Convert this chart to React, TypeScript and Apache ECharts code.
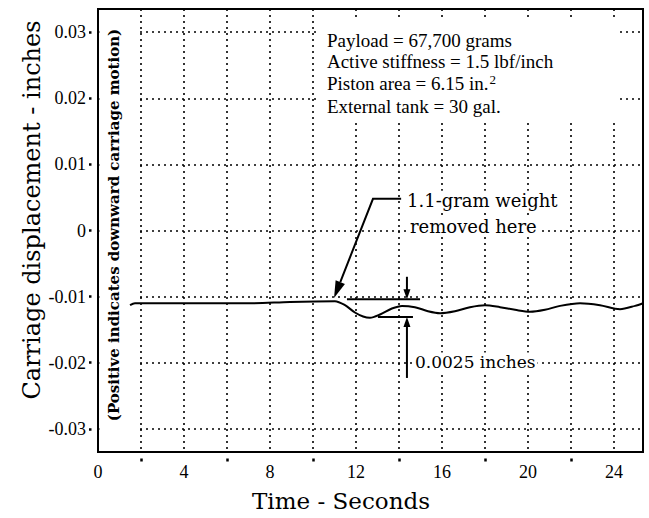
import React, { useEffect, useRef } from "react";
import * as echarts from "echarts";

// ---- Data (time in seconds, displacement in inches) ----
const timeSeconds = [
  1.49, 1.72, 2.42, 4.74, 7.07, 8.93, 11.02, 11.49, 11.95, 12.33,
  12.65, 13.12, 13.67, 14.14, 14.74, 15.35, 15.91, 16.6, 17.3, 18.0,
  18.7, 19.4, 20.09, 20.79, 21.49, 22.42, 23.35, 24.28, 24.98, 25.35,
];
const displacementInches = [
  -0.0113, -0.011, -0.011, -0.011, -0.011, -0.0108, -0.0107, -0.0113, -0.0124, -0.013,
  -0.0132, -0.0127, -0.0118, -0.0114, -0.0116, -0.0122, -0.0125, -0.0122, -0.0116, -0.0113,
  -0.0116, -0.012, -0.0123, -0.012, -0.0114, -0.011, -0.0113, -0.0119, -0.0114, -0.011,
];
const yTickValues = [-0.03, -0.02, -0.01, 0, 0.01, 0.02, 0.03];
const xLabelStep = 4;
const xTickMarks = [2, 6, 10, 14, 18, 22];
const infoLines = [
  "Payload = 67,700 grams",
  "Active stiffness = 1.5 lbf/inch",
  "Piston area = 6.15 in.",
  "External tank = 30 gal.",
];
const weightLabel = ["1.1-gram weight", "removed here"];
const dimensionLabel = "0.0025 inches";
const xTitle = "Time - Seconds";
const yTitle = "Carriage displacement - inches";
const ySubTitle = "(Positive indicates downward carriage motion)";

// annotation anchors in data units [time, displacement]
const weightRemovedTip = [10.98, -0.0102];
const leaderKnee = [12.79, 0.0048];
const leaderEnd = [14.1, 0.0048];
const weightLine1 = [14.28, 0.0045];
const weightLine2 = [14.42, 0.0006];
const flatLevel = -0.0104;
const troughLevel = -0.0131;
const upperBarT = [11.58, 14.98];
const lowerBarT = [13.02, 14.65];
const dimArrowT = 14.37;
const upperArrowTop = -0.007;
const lowerArrowBottom = -0.0223;
const dimLabelAt = [14.65, -0.0199];
const infoBoxTL = [10.23, 0.0318];
const infoBoxBR = [24.28, 0.0167];
const infoTextLeftT = 10.65;
const infoLineValues = [0.0288, 0.0255, 0.0222, 0.0188];
const clearStripT = 1.81;

const Y_MIN = -0.0335;
const Y_MAX = 0.0335;
const X_MAX = 25.35;

export default function App() {
  const ref = useRef<HTMLDivElement>(null);

  useEffect(() => {
    document.body.style.margin = "0";
    const chart = echarts.init(ref.current!, null, { renderer: "svg" });
    const serif = "'Liberation Serif', 'Times New Roman', serif";
    const wide = "'DejaVu Serif', serif";
    const dotted = { color: "#000", width: 1.6, type: [2, 4] as number[] };
    const tickDash = { color: "#000", width: 2.5, type: [0, 6.5, 3, 40] as number[] };

    chart.setOption({
      animation: false,
      backgroundColor: "#fff",
      grid: {
        left: 98,
        right: 6,
        top: 9,
        bottom: 66,
        show: true,
        borderColor: "#000",
        borderWidth: 2,
      },
      xAxis: [
        {
          type: "value",
          min: 0,
          max: X_MAX,
          interval: xLabelStep,
          axisLine: { show: false },
          axisTick: { show: false },
          axisLabel: {
            color: "#000",
            fontFamily: serif,
            fontSize: 18,
            margin: 11,
            formatter: (v: number) => (Math.abs(v % xLabelStep) < 1e-9 ? String(v) : ""),
          },
          splitLine: { show: true, lineStyle: dotted },
          minorTick: { show: false, splitNumber: 2 },
          minorSplitLine: { show: true, lineStyle: dotted },
        },
        {
          type: "value",
          gridIndex: 0,
          position: "bottom",
          min: 0,
          max: X_MAX,
          axisLine: { show: false },
          axisLabel: { show: false },
          splitLine: { show: false },
          axisTick: { show: true, customValues: xTickMarks, length: 10, lineStyle: tickDash },
        },
      ],
      yAxis: {
        type: "value",
        min: Y_MIN,
        max: Y_MAX,
        axisLine: { show: false },
        axisTick: { show: true, customValues: yTickValues, length: 9, lineStyle: tickDash },
        axisLabel: {
          customValues: yTickValues,
          color: "#000",
          fontFamily: serif,
          fontSize: 18,
          margin: 12,
          formatter: (v: number) => (v === 0 ? "0" : v.toFixed(2)),
        },
        splitLine: { show: true, lineStyle: dotted },
      },
      series: [
        {
          type: "line",
          xAxisIndex: 0,
          data: timeSeconds.map((t, i) => [t, displacementInches[i]]),
          showSymbol: false,
          smooth: 0.3,
          lineStyle: { color: "#000", width: 2 },
          z: 3,
        },
      ],
    });

    const P = (t: number, v: number) =>
      chart.convertToPixel({ xAxisIndex: 0, yAxisIndex: 0 }, [t, v]) as number[];

    const head = (tip: number[], from: number[], len: number, half: number) => {
      const dx = tip[0] - from[0];
      const dy = tip[1] - from[1];
      const l = Math.hypot(dx, dy) || 1;
      const ux = dx / l;
      const uy = dy / l;
      const bx = tip[0] - ux * len;
      const by = tip[1] - uy * len;
      return [
        [tip[0], tip[1]],
        [bx - uy * half, by + ux * half],
        [bx + uy * half, by - ux * half],
      ];
    };

    const stripTL = P(0, Y_MAX);
    const stripBR = P(clearStripT, Y_MIN);
    const boxTL = P(infoBoxTL[0], infoBoxTL[1]);
    const boxBR = P(infoBoxBR[0], infoBoxBR[1]);

    const tip = P(weightRemovedTip[0], weightRemovedTip[1]);
    const knee = P(leaderKnee[0], leaderKnee[1]);
    const lend = P(leaderEnd[0], leaderEnd[1]);
    const w1 = P(weightLine1[0], weightLine1[1]);
    const w2 = P(weightLine2[0], weightLine2[1]);

    const ub0 = P(upperBarT[0], flatLevel);
    const ub1 = P(upperBarT[1], flatLevel);
    const lb0 = P(lowerBarT[0], troughLevel);
    const lb1 = P(lowerBarT[1], troughLevel);
    const uaTop = P(dimArrowT, upperArrowTop);
    const uaTip = P(dimArrowT, flatLevel);
    const laBot = P(dimArrowT, lowerArrowBottom);
    const laTip = P(dimArrowT, troughLevel);
    const dl = P(dimLabelAt[0], dimLabelAt[1]);

    const black = { stroke: "#000", lineWidth: 2, fill: "none" };
    const elements: any[] = [
      {
        type: "rect",
        z: 1,
        shape: {
          x: stripTL[0] + 1.5,
          y: stripTL[1] + 1.5,
          width: stripBR[0] - stripTL[0] - 1.5,
          height: stripBR[1] - stripTL[1] - 3,
        },
        style: { fill: "#fff" },
      },
      {
        type: "rect",
        z: 1,
        shape: { x: boxTL[0], y: boxTL[1], width: boxBR[0] - boxTL[0], height: boxBR[1] - boxTL[1] },
        style: { fill: "#fff" },
      },
    ];

    infoLines.forEach((line, i) => {
      const p = P(infoTextLeftT, infoLineValues[i]);
      const isPiston = i === 2;
      elements.push({
        type: "text",
        z: 5,
        x: p[0],
        y: p[1],
        style: isPiston
          ? {
              text: `{a|${line}}{s|2}`,
              rich: {
                a: { fontFamily: serif, fontSize: 19, fill: "#000" },
                s: { fontFamily: serif, fontSize: 13, fill: "#000", padding: [0, 0, 9, 1] },
              },
              align: "left",
              verticalAlign: "middle",
            }
          : {
              text: line,
              fontFamily: serif,
              fontSize: 19,
              fill: "#000",
              align: "left",
              verticalAlign: "middle",
            },
      });
    });

    // leader for weight removal
    const headPts = head(tip, knee, 17, 5);
    const headBase = [(headPts[1][0] + headPts[2][0]) / 2, (headPts[1][1] + headPts[2][1]) / 2];
    elements.push(
      { type: "polyline", z: 5, shape: { points: [lend, knee, headBase] }, style: black },
      { type: "polygon", z: 5, shape: { points: headPts }, style: { fill: "#000" } },
      {
        type: "text",
        z: 5,
        x: w1[0],
        y: w1[1],
        style: {
          text: weightLabel[0],
          fontFamily: wide,
          fontSize: 18,
          fill: "#000",
          align: "left",
          verticalAlign: "middle",
          backgroundColor: "#fff",
          padding: [1, 2],
        },
      },
      {
        type: "text",
        z: 5,
        x: w2[0],
        y: w2[1],
        style: {
          text: weightLabel[1],
          fontFamily: wide,
          fontSize: 18,
          fill: "#000",
          align: "left",
          verticalAlign: "middle",
          backgroundColor: "#fff",
          padding: [1, 2],
        },
      }
    );

    // dimension marker
    const uHead = head(uaTip, uaTop, 10, 3.5);
    const lHead = head(laTip, laBot, 10, 3.5);
    elements.push(
      { type: "line", z: 5, shape: { x1: ub0[0], y1: ub0[1], x2: ub1[0], y2: ub1[1] }, style: black },
      { type: "line", z: 5, shape: { x1: lb0[0], y1: lb0[1], x2: lb1[0], y2: lb1[1] }, style: black },
      { type: "line", z: 5, shape: { x1: uaTop[0], y1: uaTop[1], x2: uaTip[0], y2: uaTip[1] - 8 }, style: black },
      { type: "polygon", z: 5, shape: { points: uHead }, style: { fill: "#000" } },
      { type: "line", z: 5, shape: { x1: laBot[0], y1: laBot[1], x2: laTip[0], y2: laTip[1] + 8 }, style: black },
      { type: "polygon", z: 5, shape: { points: lHead }, style: { fill: "#000" } },
      {
        type: "text",
        z: 5,
        x: dl[0],
        y: dl[1],
        style: {
          text: dimensionLabel,
          fontFamily: wide,
          fontSize: 17,
          fill: "#000",
          align: "left",
          verticalAlign: "middle",
          backgroundColor: "#fff",
          padding: [1, 2],
        },
      }
    );

    // axis titles
    elements.push(
      {
        type: "text",
        z: 5,
        x: 341,
        y: 501,
        style: {
          text: xTitle,
          fontFamily: wide,
          fontSize: 23,
          fill: "#000",
          align: "center",
          verticalAlign: "middle",
        },
      },
      {
        type: "text",
        z: 5,
        x: 32,
        y: 210,
        rotation: Math.PI / 2,
        style: {
          text: yTitle,
          fontFamily: wide,
          fontSize: 24,
          fill: "#000",
          align: "center",
          verticalAlign: "middle",
        },
      },
      {
        type: "text",
        z: 5,
        x: 114,
        y: 225,
        rotation: Math.PI / 2,
        style: {
          text: ySubTitle,
          fontFamily: wide,
          fontWeight: "bold",
          fontSize: 15,
          fill: "#000",
          align: "center",
          verticalAlign: "middle",
        },
      }
    );

    chart.setOption({ graphic: { elements } });

    return () => chart.dispose();
  }, []);

  return (
    <div
      ref={ref}
      style={{ position: "fixed", left: 0, top: 0, width: 649, height: 518, background: "#fff" }}
    />
  );
}
